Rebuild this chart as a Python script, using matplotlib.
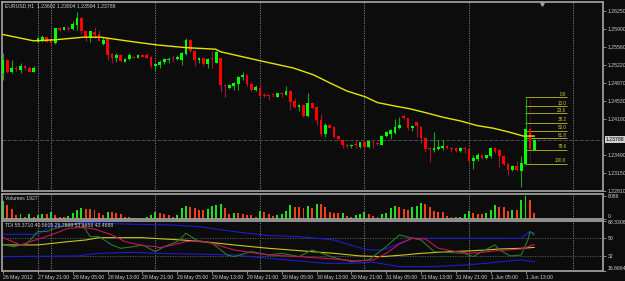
import numpy as np
import matplotlib
matplotlib.use('Agg')
import matplotlib.pyplot as plt
from matplotlib.transforms import blended_transform_factory

# EURUSD H1 candles (index 0 = first bar on the chart)
opens = [1.2506, 1.2531, 1.2509, 1.2517, 1.2512, 1.2519, 1.2517, 1.2509, 1.2566, 1.2568,
         1.2575, 1.2571, 1.2563, 1.2593, 1.2589, 1.2593, 1.2591, 1.2598, 1.2611, 1.2586,
         1.2573, 1.2584, 1.2581, 1.2561, 1.2573, 1.2543, 1.2535, 1.2541, 1.2528, 1.2533,
         1.2538, 1.2536, 1.2541, 1.2541, 1.2538, 1.2520, 1.2522, 1.2527, 1.2531, 1.2536,
         1.2533, 1.2531, 1.2542, 1.2570, 1.2549, 1.2532, 1.2535, 1.2523, 1.2535, 1.2525,
         1.2536, 1.2484, 1.2477, 1.2481, 1.2486, 1.2498, 1.2503, 1.2486, 1.2474, 1.2477,
         1.2465, 1.2465, 1.2466, 1.2460, 1.2468, 1.2465, 1.2472, 1.2453, 1.2442, 1.2445,
         1.2425, 1.2450, 1.2442, 1.2417, 1.2390, 1.2407, 1.2404, 1.2387, 1.2379, 1.2369,
         1.2367, 1.2370, 1.2366, 1.2374, 1.2365, 1.2375, 1.2373, 1.2369, 1.2386, 1.2389,
         1.2391, 1.2401, 1.2425, 1.2420, 1.2401, 1.2412, 1.2404, 1.2383, 1.2364, 1.2360,
         1.2362, 1.2363, 1.2367, 1.2364, 1.2363, 1.2358, 1.2364, 1.2361, 1.2338, 1.2343,
         1.2350, 1.2344, 1.2347, 1.2364, 1.2359, 1.2348, 1.2332, 1.2321, 1.2328, 1.2320,
         1.2333, 1.2400, 1.23602]
highs = [1.2544, 1.2533, 1.2531, 1.2519, 1.2525, 1.2521, 1.2519, 1.2519, 1.2574, 1.2579,
         1.2576, 1.2576, 1.2593, 1.2595, 1.2595, 1.2596, 1.2605, 1.2623, 1.2614, 1.2587,
         1.2587, 1.2595, 1.2589, 1.2576, 1.2574, 1.2544, 1.2544, 1.2542, 1.2535, 1.2544,
         1.2539, 1.2542, 1.2542, 1.2544, 1.2539, 1.2524, 1.2531, 1.2535, 1.2538, 1.2541,
         1.2541, 1.2547, 1.2573, 1.2571, 1.2551, 1.2538, 1.2536, 1.2536, 1.2549, 1.2549,
         1.2536, 1.2485, 1.2485, 1.2489, 1.2500, 1.2508, 1.2504, 1.2490, 1.2484, 1.2485,
         1.2468, 1.2467, 1.2469, 1.2469, 1.2470, 1.2481, 1.2474, 1.2458, 1.2448, 1.2447,
         1.2469, 1.2452, 1.2444, 1.2429, 1.2410, 1.2409, 1.2405, 1.2388, 1.2380, 1.2372,
         1.2370, 1.2379, 1.2375, 1.2379, 1.2379, 1.2377, 1.2375, 1.2388, 1.2395, 1.2400,
         1.2419, 1.2423, 1.2426, 1.2421, 1.2408, 1.2414, 1.2405, 1.2385, 1.2366, 1.2394,
         1.2379, 1.2379, 1.2369, 1.2366, 1.2366, 1.2366, 1.2365, 1.2363, 1.2350, 1.2353,
         1.2351, 1.2350, 1.2366, 1.2366, 1.2361, 1.2350, 1.2334, 1.2330, 1.2338, 1.2347,
         1.2458, 1.2402, 1.23804]
lows = [1.2493, 1.2506, 1.2506, 1.2510, 1.2507, 1.2512, 1.2508, 1.2508, 1.2565, 1.2565,
        1.2565, 1.2560, 1.2562, 1.2587, 1.2588, 1.2586, 1.2589, 1.2589, 1.2582, 1.2568,
        1.2566, 1.2573, 1.2568, 1.2560, 1.2531, 1.2525, 1.2528, 1.2527, 1.2527, 1.2531,
        1.2535, 1.2535, 1.2537, 1.2535, 1.2516, 1.2510, 1.2516, 1.2523, 1.2525, 1.2528,
        1.2531, 1.2522, 1.2541, 1.2546, 1.2519, 1.2525, 1.2519, 1.2516, 1.2516, 1.2525,
        1.2470, 1.2460, 1.2476, 1.2474, 1.2474, 1.2493, 1.2481, 1.2472, 1.2473, 1.2461,
        1.2460, 1.2455, 1.2460, 1.2460, 1.2461, 1.2464, 1.2436, 1.2440, 1.2433, 1.2423,
        1.2423, 1.2439, 1.2407, 1.2387, 1.2385, 1.2401, 1.2382, 1.2379, 1.2363, 1.2364,
        1.2364, 1.2364, 1.2363, 1.2356, 1.2363, 1.2364, 1.2369, 1.2368, 1.2384, 1.2381,
        1.2389, 1.2400, 1.2419, 1.2398, 1.2396, 1.2385, 1.2372, 1.2356, 1.2337, 1.2356,
        1.2360, 1.2360, 1.2362, 1.2356, 1.2356, 1.2356, 1.2353, 1.2337, 1.2323, 1.2339,
        1.2342, 1.2342, 1.2345, 1.2353, 1.2326, 1.2331, 1.2312, 1.2319, 1.2320, 1.2288,
        1.2331, 1.2360, 1.23594]
closes = [1.2531, 1.2509, 1.2517, 1.2514, 1.2519, 1.2516, 1.2509, 1.2517, 1.2573, 1.2576,
          1.2566, 1.2563, 1.2592, 1.2588, 1.2594, 1.2591, 1.2600, 1.2611, 1.2586, 1.2573,
          1.2586, 1.2579, 1.2568, 1.2569, 1.2541, 1.2536, 1.2541, 1.2530, 1.2533, 1.2540,
          1.2536, 1.2541, 1.2538, 1.2536, 1.2519, 1.2523, 1.2528, 1.2533, 1.2534, 1.2533,
          1.2538, 1.2544, 1.2570, 1.2548, 1.2532, 1.2536, 1.2523, 1.2533, 1.2533, 1.2547,
          1.2484, 1.2481, 1.2484, 1.2487, 1.2498, 1.2503, 1.2485, 1.2474, 1.2479, 1.2463,
          1.2463, 1.2463, 1.2464, 1.2468, 1.2466, 1.2472, 1.2452, 1.2442, 1.2445, 1.2425,
          1.2450, 1.2440, 1.2417, 1.2390, 1.2407, 1.2402, 1.2385, 1.2380, 1.2368, 1.2367,
          1.2369, 1.2368, 1.2374, 1.2366, 1.2377, 1.2373, 1.2370, 1.2387, 1.2393, 1.2398,
          1.2404, 1.2407, 1.2420, 1.2402, 1.2406, 1.2405, 1.2383, 1.2362, 1.2362, 1.2364,
          1.2366, 1.2367, 1.2363, 1.2362, 1.2358, 1.2364, 1.2362, 1.2338, 1.2345, 1.2350,
          1.2345, 1.2349, 1.2364, 1.2355, 1.2347, 1.2332, 1.2321, 1.2328, 1.2321, 1.2334,
          1.2400, 1.2361, 1.23788]
volumes = [6040, 4830, 3380, 1200, 1450, 600, 1450, 600, 1200, 1450,
           1450, 2170, 1200, 600, 600, 970, 1810, 3020, 3860, 3380,
           3380, 3020, 1810, 1200, 2410, 2410, 1810, 1450, 600, 360,
           240, 240, 240, 360, 1200, 2410, 1810, 1450, 1200, 600,
           1200, 3860, 4590, 4220, 3860, 3020, 3020, 3380, 4590, 4830,
           5190, 3620, 1450, 1810, 1810, 1450, 1210, 1210, 600, 2660,
           2410, 1570, 970, 1210, 1450, 2660, 4830, 4220, 4220, 3620,
           4470, 3620, 5070, 5070, 4220, 2410, 2050, 1810, 2050, 970,
           600, 1210, 1450, 2410, 1450, 970, 600, 1450, 1810, 3620,
           4590, 4220, 3380, 3020, 4220, 4590, 5430, 5070, 4220, 2660,
           2410, 2410, 970, 600, 360, 600, 1450, 2660, 1810, 1450,
           1450, 1810, 3020, 4830, 4220, 4220, 2660, 3020, 3020, 6640,
           8086, 6400, 1927]

# moving average (yellow), read at a few bars
ma_idx = [0, 7, 12, 18.5, 22.4, 30, 35.5, 42, 48.8, 50, 59, 66.7, 71.3, 75.2, 79,
          83.2, 86, 89.6, 93.5, 97.4, 101, 105, 108.9, 112.6, 116.5, 119.5, 122]
ma_val = [1.2580, 1.2568, 1.2570, 1.2575, 1.2575, 1.2566, 1.2560, 1.2555, 1.2552, 1.2547,
          1.2530, 1.2516, 1.2503, 1.2487, 1.2472, 1.2461, 1.2450, 1.2444, 1.2438, 1.2430,
          1.2422, 1.2415, 1.2406, 1.2401, 1.2393, 1.2386, 1.2386]

# TDI lines
tdi_up_idx = [0, 8, 11, 15, 18, 22, 30, 38, 45, 53, 61, 68, 76, 81, 84, 87, 88, 91, 94, 100, 119, 121, 122]
tdi_up_val = [54.1, 54.1, 62.0, 64.5, 66.5, 65.5, 64.5, 63.8, 62.0, 56.9, 52.7, 51.7, 48.2,
              41.3, 37.9, 37.9, 38.9, 44.8, 50.0, 50.0, 50.0, 56.9, 55.371]
tdi_lo_idx = [0, 17, 20, 22, 30, 35, 47, 53, 61, 68, 74, 80, 85, 91, 99, 106, 111, 116, 119, 122]
tdi_lo_val = [31.0, 31.7, 33.4, 34.4, 35.5, 34.4, 33.4, 32.7, 29.3, 26.5, 24.1, 24.1, 25.2,
              20.7, 20.7, 22.4, 24.1, 26.5, 27.6, 25.7599]
tdi_base_idx = [0, 8, 15, 19, 22, 32, 34, 41, 46, 53, 61, 68, 76, 82, 87, 92, 96, 103, 107,
                111, 114, 119, 122]
tdi_base_val = [43.1, 43.1, 46.5, 48.2, 50.6, 50.6, 50.0, 48.2, 46.5, 43.1, 39.6, 37.2, 34.4,
                31.7, 31.0, 32.7, 34.4, 36.2, 36.9, 37.9, 38.9, 39.6, 40.5605]
tdi_sig_idx = [0, 4, 11, 15, 18, 21, 25, 28, 32, 35, 36, 39, 42, 45, 48, 53, 61, 68, 76, 81,
               85, 88, 91, 94, 97, 100, 104, 107, 110, 113, 116, 119, 122]
tdi_sig_val = [50.6, 43.1, 53.4, 60.3, 61.0, 59.6, 53.4, 46.5, 42.4, 41.3, 40.3, 43.1, 46.5,
               47.5, 44.8, 37.9, 32.7, 31.0, 28.6, 26.5, 27.6, 34.4, 44.0, 50.0, 49.3, 39.6,
               36.2, 34.4, 35.5, 36.9, 37.9, 38.9, 43.4688]
tdi_rsi_idx = [0, 2.5, 5.5, 8, 10, 12, 15, 18, 20, 22, 25, 27, 30, 32, 35, 37, 40, 42, 45, 48,
               51.5, 53, 57, 61, 64, 68, 71, 76, 80, 84, 86, 88, 91, 94, 96, 99, 103, 106, 108,
               110, 113, 114, 116.5, 119, 120.7, 121, 122]
tdi_rsi_val = [43.1, 41.3, 44.8, 56.9, 56.9, 60.3, 63.8, 65.5, 51.7, 51.7, 43.1, 39.6, 41.3,
               43.1, 36.2, 41.3, 46.5, 55.1, 46.5, 44.8, 32.7, 31.0, 36.2, 32.7, 34.4, 31.0,
               37.9, 30.0, 25.8, 27.6, 34.4, 41.3, 53.4, 50.0, 48.2, 36.2, 35.1, 34.4, 31.0,
               36.2, 43.1, 37.9, 31.7, 32.7, 50.0, 56.9, 53.3658]

price_ticks = [1.26250, 1.25900, 1.25560, 1.25220, 1.24870, 1.24530, 1.24180,
               1.23490, 1.23150, 1.22810]
bid = 1.23788
day_breaks = [8, 11, 35, 59, 83, 107, 131]
time_idx = [0, 8, 16, 24, 32, 40, 48, 56, 64, 72, 80, 88, 96, 104, 112, 120]
time_labels = ['26 May 2012', '27 May 21:00', '28 May 05:00', '28 May 13:00', '28 May 21:00',
               '29 May 05:00', '29 May 13:00', '29 May 21:00', '30 May 05:00', '30 May 13:00',
               '30 May 21:00', '31 May 05:00', '31 May 13:00', '31 May 21:00', '1 Jun 05:00',
               '1 Jun 13:00']
fib_levels = [0.0, 13.0, 23.6, 38.2, 50.0, 61.8, 78.6, 100.0]
fib_high, fib_low = 1.2460, 1.2333

BG = '#0c0c0c'
FRAME = '#9c9c9c'
TXT = '#cfcfcf'
FS = 3.7
plt.rcParams['font.family'] = ['Liberation Sans', 'DejaVu Sans']

W, H = 625, 281
fig = plt.figure(figsize=(W / 100, H / 100), dpi=100, facecolor=BG)


def px_box(x0, y0, x1, y1):
    return [x0 / W, 1 - y1 / H, (x1 - x0) / W, (y1 - y0) / H]


ax = fig.add_axes(px_box(2, 2, 603, 191))
axv = fig.add_axes(px_box(2, 193.5, 603, 218.5), sharex=ax)
axt = fig.add_axes(px_box(2, 220.5, 603, 270.5), sharex=ax)

for a in (ax, axv, axt):
    a.set_facecolor(BG)
    for s in a.spines.values():
        s.set_color(FRAME)
        s.set_linewidth(1.3)
    a.yaxis.tick_right()
    a.tick_params(axis='y', colors=FRAME, labelcolor=TXT, labelsize=FS, length=2, width=0.6, pad=1.2)
    for d in day_breaks:
        a.axvline(d, color='#8a8a8a', lw=0.6, ls=(0, (1.5, 1.5)), zorder=0)

# candles
idx = np.arange(len(opens))
o = np.array(opens)
c = np.array(closes)
up = c >= o
body_col = np.where(up, '#00ff00', '#ff0000')
wick_col = np.where(up, '#12a812', '#a3123f')
ax.vlines(idx, lows, highs, colors=wick_col, lw=0.8, zorder=3)
ax.bar(idx, np.maximum(np.abs(c - o), 0.00012), bottom=np.minimum(o, c), width=0.62,
       color=body_col, linewidth=0, zorder=4)

ax.plot(ma_idx, ma_val, color='#e6e600', lw=1.0, zorder=5)
ax.axhline(bid, color='#4e4e4e', lw=0.7, ls=(0, (4, 1.5)), zorder=1)

# fibonacci retracement
ax.plot([121, 121], [fib_high, fib_low], color='#a3123f', lw=0.7, ls=':', zorder=2)
for lvl in fib_levels:
    p = fib_high - lvl / 100 * (fib_high - fib_low)
    ax.hlines(p, 119.8, 129.6, color='#a6a61c', lw=0.7, zorder=2)
    ax.text(129.4, p + 0.00006, f'{lvl:.1f}', ha='right', va='bottom', fontsize=3.3, color='#c8c83c')

ax.set_xlim(-0.25, 137.8)
ax.set_ylim(1.2281, 1.26422)
ax.set_yticks(price_ticks)
ax.set_yticklabels([f'{t:.5f}' for t in price_ticks])
ax.tick_params(axis='x', bottom=False, labelbottom=False)
trans = blended_transform_factory(ax.transAxes, ax.transData)
ax.text(1.0045, bid, f'{bid:.5f}', transform=trans, ha='left', va='center', fontsize=FS,
        color='black', bbox=dict(facecolor='#cfcfcf', edgecolor='none', pad=0.7))
ax.plot([123.75], [0.992], marker='v', ms=2.5, color='#a0a0a0',
        transform=blended_transform_factory(ax.transData, ax.transAxes), clip_on=False)

# volumes
vol = np.array(volumes)
vol_up = np.concatenate([[True], vol[1:] > vol[:-1]])
axv.bar(idx, vol, width=0.45, color=np.where(vol_up, '#22dd22', '#f0401a'), linewidth=0)
axv.set_ylim(0, 8866)
axv.set_yticks([0, 8086])
axv.set_yticklabels(['0', '8086'])
axv.get_yticklabels()[0].set_va('bottom')
axv.tick_params(axis='x', bottom=False, labelbottom=False)

# TDI
axt.axhline(50, color='#606060', lw=0.6, ls=(0, (1.5, 1.5)))
axt.axhline(32, color='#606060', lw=0.6, ls=(0, (1.5, 1.5)))
axt.plot(tdi_up_idx, tdi_up_val, color='#1c1cd0', lw=0.8)
axt.plot(tdi_lo_idx, tdi_lo_val, color='#1c1cd0', lw=0.8)
axt.plot(tdi_base_idx, tdi_base_val, color='#c8c81e', lw=0.8)
axt.plot(tdi_rsi_idx, tdi_rsi_val, color='#2a7a2a', lw=0.8)
axt.plot(tdi_sig_idx, tdi_sig_val, color='#c8145a', lw=0.8)
axt.set_ylim(16.6664, 68.3306)
axt.set_yticks([16.6664, 32, 50, 68.3306])
axt.set_yticklabels(['16.6664', '32', '50', '68.3306'])
axt.get_yticklabels()[0].set_va('bottom')
axt.get_yticklabels()[3].set_va('top')
axt.set_xticks(time_idx)
axt.set_xticklabels(time_labels, ha='left')
axt.tick_params(axis='x', colors=FRAME, labelcolor=TXT, labelsize=FS, length=2, width=0.6, pad=1)

fig.text(5 / W, 1 - 5.5 / H, 'EURUSD,H1  1.23602 1.23804 1.23594 1.23788', ha='left', va='center',
         fontsize=FS, color=TXT)
fig.text(5 / W, 1 - 198.5 / H, 'Volumes 1927', ha='left', va='center', fontsize=FS, color=TXT)
fig.text(5 / W, 1 - 225.5 / H, 'TDI 55.3710 40.5605 25.7599 53.3658 43.4688', ha='left',
         va='center', fontsize=FS, color=TXT)

fig.savefig('out.png', dpi=100, facecolor=BG)
